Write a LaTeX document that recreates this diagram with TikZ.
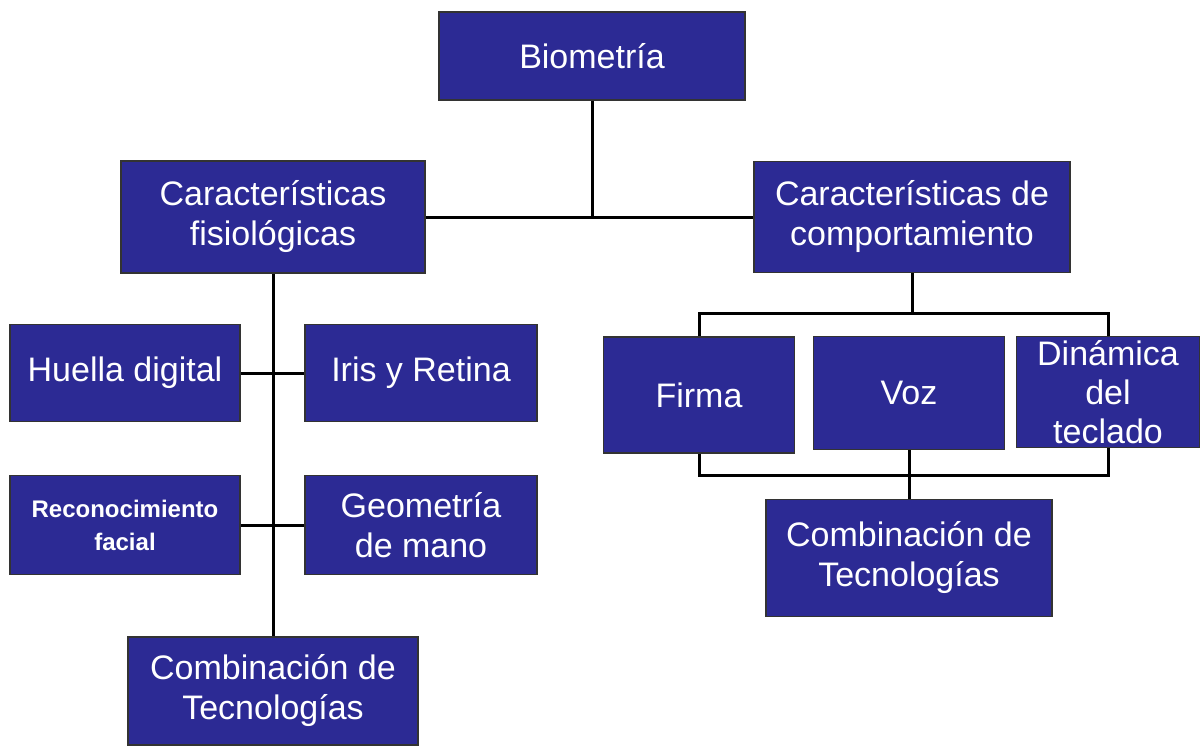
\documentclass[tikz,border=0pt]{standalone}
\usepackage{fontspec}
\setmainfont{Liberation Sans}
\definecolor{boxblue}{RGB}{44,42,148}

\begin{document}
\begin{tikzpicture}[x=0.5pt, y=-0.5pt, line width=1.5pt,
				   every node/.style={rectangle, draw=black!80, line width=0.8pt, fill=boxblue, text=white, align=center, inner sep=2pt, font=\fontsize{17}{20}\selectfont},
				   small/.style={font=\bfseries\fontsize{12}{16.5}\selectfont},
				   tight/.style={inner sep=0pt, font=\fontsize{17}{19.5}\selectfont}]
\useasboundingbox (0,0) rectangle (1204,749);
% top
\node[minimum width=153pt, minimum height=44pt] (bio) at (592,56) {Biometría};
\node[minimum width=152pt, minimum height=56pt] (fis) at (273,217) {Características\\fisiológicas};
\node[minimum width=158pt, minimum height=55.5pt] (com) at (912,217) {Características de\\comportamiento};
% left branch
\node[minimum width=115pt, minimum height=48.5pt] (hue) at (125,373) {Huella digital};
\node[minimum width=116pt, minimum height=48.5pt] (iri) at (421,373) {Iris y Retina};
\node[small, minimum width=115pt, minimum height=49.5pt] (rec) at (125,525) {Reconocimiento\\facial};
\node[minimum width=116pt, minimum height=49.5pt] (geo) at (421,525) {Geometría\\de mano};
\node[minimum width=145pt, minimum height=54pt] (cmb1) at (273,691) {Combinación de\\Tecnologías};
% right branch
\node[minimum width=95.5pt, minimum height=58pt] (fir) at (699,395) {Firma};
\node[minimum width=95.5pt, minimum height=56.5pt] (voz) at (909,393) {Voz};
\node[tight, minimum width=91.5pt, minimum height=55.5pt] (din) at (1108,392) {Dinámica\\del\\teclado};
\node[minimum width=143pt, minimum height=58.5pt] (cmb2) at (909,558) {Combinación de\\Tecnologías};
\coordinate (tb) at (909,313);
\coordinate (bb) at (909,475);
% lines
\draw (fis.east) -- (com.west);
\draw (bio.south) -- (bio.south |- fis.east);
\draw (fis.south) -- (cmb1.north);
\draw (hue.east) -- (iri.west);
\draw (rec.east) -- (geo.west);
\draw (com.south) -- (com.south |- tb);
\draw (fir.north) |- (tb) -| (din.north);
\draw (fir.south) |- (bb) -| (din.south);
\draw (voz.south) -- (cmb2.north);
\end{tikzpicture}
\end{document}
